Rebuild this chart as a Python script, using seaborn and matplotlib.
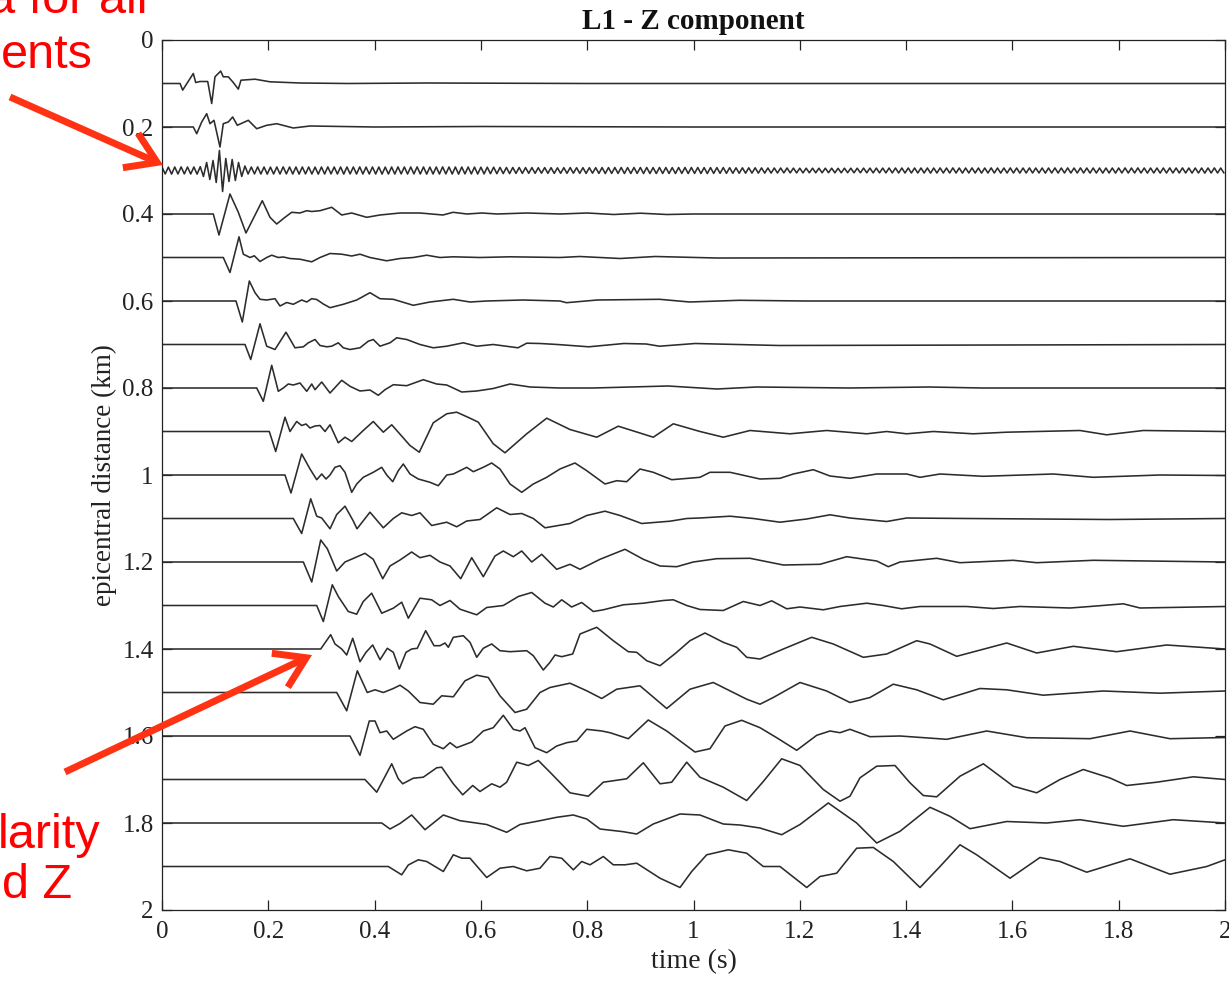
import numpy as np
import pandas as pd
import matplotlib
matplotlib.use("Agg")
import matplotlib.pyplot as plt
from matplotlib.ticker import FuncFormatter
import seaborn as sns

# ---------------- text ----------------
TITLE = "L1 - Z component"
XLABEL = "time (s)"
YLABEL = "epicentral distance (km)"
X_TICKS = [0, 0.2, 0.4, 0.6, 0.8, 1.0, 1.2, 1.4, 1.6, 1.8, 2.0]
Y_TICKS = [0, 0.2, 0.4, 0.6, 0.8, 1.0, 1.2, 1.4, 1.6, 1.8, 2.0]
NOTE_TOP = ["a for all", "ents"]
NOTE_BOTTOM = ["larity", "d Z"]

# ---------------- data ----------------
# trace offsets (epicentral distance, km)
DISTANCES = [0.1, 0.2, 0.3, 0.4, 0.5, 0.6, 0.7, 0.8, 0.9, 1.0,
             1.1, 1.2, 1.3, 1.4, 1.5, 1.6, 1.7, 1.8, 1.9]
AMP_GAIN = 0.0023  # km of plot offset per amplitude unit (up = positive)

T_01 = [0, 0.0339, 0.0389, 0.0589, 0.0634, 0.0715, 0.0860, 0.0935, 0.0997, 0.1104, 0.1153,
        0.1247, 0.1330, 0.1436, 0.1486, 0.1750, 0.2032, 0.2600, 0.3500, 0.5000, 0.8000, 2.0]
A_01 = [0, 0, -6.6, 10, 1, 2, 2, -20, 6.7, 12.4, 6.7, 6.7, 1.7, -5.6, 3.3, 4.3, 1.7, 0.5, 0, 0.5, 0, 0]

T_02 = [0, 0.0589, 0.0653, 0.0747, 0.0841, 0.0903, 0.0978, 0.1091, 0.1153, 0.1247, 0.1330,
        0.1417, 0.1624, 0.1782, 0.1970, 0.2158, 0.2470, 0.2785, 0.40, 0.60, 1.00, 2.0]
A_02 = [0, 0, -6.7, 5, 13.3, 3.3, 6.7, -20, 3.3, 5, 10, 1.7, 6.7, -1.7, 1.7, 3.3, -1, 1, 0, 0.5, 0, 0]

# 0.3 km trace: ringing record, extrema sampled every RING_DT seconds
RING_DT = 0.006
A_03 = [
    3.5, -3.5, 3.4, -3.6, 3.5, -3.5, 3.6, -3.4, 3.5, -3.5, 3.5, -3.6, 3.8,
    -6, 8, -9, 10, -12, 20, -21, 12, -11, 11, -10, 8, -6, 4.5,
    -3.5, 3.5, -3.4, 3.6, -3.5, 3.5, -3.6, 3.4, -3.5, 3.5,
    -3.5, 3.6, -3.4, 3.5, -3.5, 3.5, -3.6, 3.5, -3.4, 3.5,
    -3.5, 3.4, -3.6, 3.5, -3.5, 3.6, -3.4, 3.5, -3.5, 3.5,
    -3.6, 3.5, -3.4, 3.5, -3.5, 3.6, -3.5, 3.4, -3.5, 3.5,
    -3.5, 3.5, -3.6, 3.4, -3.5, 3.5, -3.5, 3.6, -3.4, 3.5,
    -3.5, 3.5, -3.4, 3.6, -3.5, 3.5, -3.6, 3.4, -3.5, 3.5,
    -3.5, 3.6, -3.4, 3.5, -3.5, 3.5, -3.6, 3.5, -3.4, 3.5,
    -3.4, 3.4, -3.5, 3.3, -3.4, 3.3, -3.2, 3.3, -3.2, 3.1,
    -3.1, 3.0, -3.1, 3.0, -2.9, 3.0, -2.9, 2.9, -2.8, 2.9,
    -2.8, 2.8, -2.7, 2.9, -2.8, 2.8, -2.9, 2.7, -2.8, 2.8,
    -2.8, 2.9, -2.7, 2.8, -2.8, 2.8, -2.9, 2.8, -2.7, 2.8,
    -2.9, 2.9, -3.0, 2.9, -2.9, 3.0, -2.9, 3.0, -3.0, 2.9,
    -3.0, 3.0, -2.9, 3.0, -3.0, 3.0, -3.0, 2.9, -3.0, 3.0,
    -3.0, 3.0, -3.0, 2.9, -3.0, 3.0, -2.9, 3.0, -3.0, 3.0,
    -2.9, 3.0, -3.0, 2.9, -3.0, 2.9, -2.9, 2.9, -2.8, 2.9,
    -2.8, 2.8, -2.8, 2.7, -2.8, 2.7, -2.7, 2.7, -2.6, 2.7,
    -2.6, 2.6, -2.6, 2.5, -2.6, 2.5, -2.5, 2.5, -2.4, 2.5,
    -2.4, 2.4, -2.4, 2.3, -2.4, 2.3, -2.3, 2.3, -2.3, 2.3,
    -2.3, 2.3, -2.2, 2.3, -2.3, 2.2, -2.3, 2.3, -2.2, 2.3,
    -2.3, 2.3, -2.3, 2.4, -2.3, 2.4, -2.4, 2.4, -2.4, 2.4,
    -2.4, 2.5, -2.4, 2.5, -2.5, 2.5, -2.5, 2.5, -2.5, 2.5,
    -2.5, 2.5, -2.5, 2.5, -2.6, 2.5, -2.5, 2.6, -2.5, 2.5,
    -2.5, 2.6, -2.5, 2.5, -2.6, 2.5, -2.5, 2.6, -2.5, 2.5,
    -2.6, 2.5, -2.5, 2.6, -2.5, 2.5, -2.6,
    2.5, -2.5, 2.6, -2.5, 2.5, -2.6, 2.5, -2.5, 2.6, -2.5,
    2.5, -2.5, 2.5, -2.6, 2.5, -2.5, 2.6, -2.5, 2.5, -2.5,
    2.6, -2.5, 2.5, -2.5, 2.6, -2.5, 2.5, -2.6, 2.5, -2.5,
    2.5, -2.6, 2.5, -2.5, 2.5, -2.6, 2.5, -2.5, 2.6, -2.5,
    2.5, -2.5, 2.6, -2.5, 2.5, -2.6, 2.5, -2.5, 2.5, -2.6,
    2.5, -2.5, 2.6, -2.5, 2.5, -2.5, 2.6, -2.5, 2.5, -2.6,
    2.5, -2.5, 2.5, -2.6, 2.5, -2.5, 2.6, -2.5, 2.5, -2.5,
]

T_04 = [0, 0.0965, 0.1072, 0.1279, 0.1436, 0.1580, 0.1887, 0.2032, 0.2158, 0.2314, 0.2440, 0.2596,
        0.2723, 0.2817, 0.2973, 0.3193, 0.3381, 0.3569, 0.3851, 0.4102, 0.4478, 0.4854, 0.5287,
        0.5475, 0.5738, 0.6021, 0.6303, 0.6867, 0.7488, 0.80, 0.85, 0.90, 0.95, 1.00, 1.05, 2.0]
A_04 = [0, 0, -21, 20, 1.7, -19, 13.3, -3.3, -10, -3.3, 1.7, 1, 3.3, 2.5, 3.3, 6.7, -1, 1, -3.3, -1,
        1, 1, -1, 1.7, 0, 1, 0, 1, 0, 1, -0.5, 0.8, -0.5, 0, 0, 0]

T_05 = [0, 0.1153, 0.1279, 0.1449, 0.1530, 0.1656, 0.1737, 0.1844, 0.1970, 0.2064, 0.2188, 0.2282,
        0.2408, 0.2596, 0.2817, 0.2973, 0.3161, 0.3381, 0.3569, 0.3725, 0.3913, 0.4228, 0.4478,
        0.4728, 0.4980, 0.5230, 0.5481, 0.5983, 0.6548, 0.7488, 0.786, 0.862, 0.928, 1.044, 2.0]
A_05 = [0, 0, -15, 20.7, 3.3, 0, 1.7, -4, 0, 2.3, 0, 0.5, -1, -1.7, -4.3, 0, 4, 3.3, 1.5, 3.3,
        0, -3.3, -1, 0, 2.3, 0, 0.7, 0, 0.7, 0, 1, -1, 1, -0.5, 0]

T_06 = [0, 0.1392, 0.1511, 0.1643, 0.1750, 0.1844, 0.1970, 0.2126, 0.2220, 0.2346, 0.2470, 0.2628,
        0.2723, 0.2817, 0.2911, 0.3035, 0.3161, 0.3411, 0.3663, 0.3913, 0.4102, 0.4352, 0.4728,
        0.5042, 0.5481, 0.5795, 0.6109, 0.6792, 0.7488, 0.761, 0.819, 0.936, 0.993, 1.086, 1.21, 2.0]
A_06 = [0, 0, -21, 20, 8.3, 1.7, 1, 2.3, -5, -1.5, -3.3, 1, -1, 2.3, 1.5, -3, -6.7, -3.3, 1, 8.3,
        2.3, 1.7, -4.3, -1, 1.7, -1, 0, 1, 0, -1.7, 1, 1.7, -1, 0.7, 0, 0]

T_07 = [0, 0.1562, 0.1669, 0.1844, 0.1970, 0.2126, 0.2333, 0.2502, 0.2659, 0.2753, 0.2879, 0.2973,
        0.3099, 0.3193, 0.3317, 0.3411, 0.3537, 0.3725, 0.3881, 0.3975, 0.4102, 0.4290, 0.4416,
        0.4604, 0.4854, 0.5104, 0.5357, 0.5669, 0.5921, 0.6233, 0.6698, 0.6862, 0.7112, 0.744,
        0.803, 0.869, 0.911, 0.936, 1.003, 1.161, 2.0]
A_07 = [0, 0, -15, 20.7, -1.7, -5, 12.3, -3.3, -2.3, 1.7, 5, -1, -2.3, -1.7, 1.7, -3.3, -5, -3.3,
        3.3, 5, -1.7, 1.7, 6.7, 5, 0, -3.3, -1.7, 1.7, -1.7, 0, -3.3, 1.3, 1, 0, -2.3, 1, 0.5,
        -1.7, 1, -1, 0]

T_08 = [0, 0.1782, 0.1906, 0.2064, 0.2188, 0.2282, 0.2376, 0.2470, 0.2596, 0.2723, 0.2817, 0.2879,
        0.3005, 0.3161, 0.3381, 0.3537, 0.3725, 0.3913, 0.4070, 0.4196, 0.4352, 0.4604, 0.4916,
        0.5168, 0.5357, 0.5639, 0.5921, 0.6233, 0.6548, 0.6924, 0.7488, 0.811, 0.952, 1.044,
        1.119, 1.294, 1.443, 1.543, 2.0]
A_08 = [0, 0, -13.3, 22.7, -3.3, 0, 4, 3, 5, -3.3, 4, -1.7, 6, -5, 7.7, 1.7, -3, -2, -7.3, -1.7,
        3.3, 2.3, 8.3, 4, 3, -4, -3, -0.5, 4, 1, 0, 0, 2, -1, 1, 0, 1, 0, 0]

T_09 = [0, 0.2019, 0.2139, 0.2314, 0.2408, 0.2534, 0.2628, 0.2709, 0.2785, 0.2879, 0.2973, 0.3067,
        0.3161, 0.3317, 0.3443, 0.3569, 0.3787, 0.3975, 0.4164, 0.4322, 0.4666, 0.4841, 0.5104,
        0.5357, 0.5545, 0.5795, 0.5951, 0.6233, 0.6453, 0.6862, 0.7238, 0.7676, 0.8179, 0.8585,
        0.9243, 0.9620, 1.0122, 1.0560, 1.1063, 1.1816, 1.2506, 1.3259, 1.3635, 1.4011, 1.4512,
        1.5264, 1.5893, 1.7272, 1.7774, 1.8463, 2.0]
A_09 = [0, 0, -20, 14.3, 0, 10, 6, 7.5, 3.5, 5.5, 6, 0, 6.7, -11.3, -5.7, -10, 1, 10, -0.7, 6.7,
        -14, -20.7, 8.7, 17.7, 19.3, 13.3, 9.3, -12.3, -21.3, -2.3, 13.3, 2, -5.7, 5.3, -5.7, 7.7,
        0, -5.7, 1, -2.3, 1, -2.3, 0, -2.3, 0, -2.3, -0.7, 1, -3.3, 1, 0]

T_10 = [0, 0.2314, 0.2427, 0.2628, 0.2785, 0.2911, 0.3005, 0.3086, 0.3161, 0.3255, 0.3349, 0.3443,
        0.3569, 0.3663, 0.3787, 0.3975, 0.4134, 0.4228, 0.4341, 0.4446, 0.4540, 0.4666, 0.4822,
        0.5042, 0.5199, 0.5357, 0.5481, 0.5607, 0.5733, 0.5857, 0.6045, 0.6203, 0.6359, 0.6548,
        0.6768, 0.6986, 0.7238, 0.7488, 0.7770, 0.7991, 0.8335, 0.8555, 0.8743, 0.8993, 0.9243,
        0.9590, 1.0122, 1.0310, 1.0687, 1.1251, 1.1627, 1.1878, 1.2254, 1.2568, 1.2944, 1.3447,
        1.4011, 1.4262, 1.4638, 1.5453, 1.6770, 1.7522, 1.8777, 2.0]
A_10 = [0, 0, -18, 21, 6, -4.7, 1, -4, 0, 7.7, 9.3, 2.7, -17.3, -9, -2.3, 2.7, 7.7, 0, -6.7, 4.3,
        11, 1, -4, -7.3, -10.7, 0, 1, 4.3, 7.7, 3.3, 7.7, 12, 6, -9, -17.3, -9, -2.3, 6, 12, 4.3,
        -9, -5.7, -6.7, 6, 2.7, -4.7, -2.3, 2.7, 2.7, -4, -3.3, 1, 5.3, -1, -3.3, 1, 1, -2.3, 1,
        -1.3, 1, -2.3, 0, -0.5]

T_11 = [0, 0.2470, 0.2628, 0.2798, 0.2911, 0.3005, 0.3161, 0.3287, 0.3443, 0.3594, 0.3669, 0.3913,
        0.4164, 0.4352, 0.4510, 0.4698, 0.4854, 0.5074, 0.5357, 0.5545, 0.5733, 0.5983, 0.6297,
        0.6548, 0.6768, 0.6986, 0.7206, 0.7676, 0.7991, 0.8335, 0.8617, 0.9025, 0.9558, 0.9872,
        1.0122, 1.0687, 1.1125, 1.1627, 1.2130, 1.2568, 1.2944, 1.3635, 1.4011, 1.5140, 1.7836, 2.0]
A_11 = [0, 0, -15, 19.7, 2.3, 0.5, -10.3, 4, 12.3, -2, -10.3, 6.3, -9.3, 0, 5.7, 3, 5.7, -7, -3.7,
        -8.3, -2.5, -1, 10.7, 4, 5, 0, -9.3, -5, 3, 7.3, 3, -5, -2.7, 0, 0.5, 2.3, 0, -3.7, -0.5,
        3.7, 0.5, -3, 0.5, 0, -1, 0]

T_12 = [0, 0.2659, 0.2817, 0.2986, 0.3110, 0.3287, 0.3443, 0.3631, 0.3819, 0.3975, 0.4153, 0.4290,
        0.4478, 0.4698, 0.4854, 0.5042, 0.5230, 0.5419, 0.5620, 0.5827, 0.6045, 0.6265, 0.6421,
        0.6610, 0.6768, 0.6956, 0.7144, 0.7426, 0.7676, 0.7865, 0.8241, 0.8711, 0.9056, 0.9370,
        0.9684, 0.9996, 1.0436, 1.1063, 1.1690, 1.2380, 1.2882, 1.3447, 1.3665, 1.3885, 1.4576,
        1.5014, 1.6017, 1.6457, 1.7522, 2.0]
A_12 = [0, 0, -20, 22, 13.3, -9, 0, 4.3, 8.7, 2.7, -16.7, -4, 2, 10, 4.3, 6.7, 0, -4, -16.7, 4.3,
        -14.7, 6, 11, 5.3, 11, 0, 7.7, -7.3, -2.3, -7.3, 2.7, 12.7, 2.7, -4, -4.7, 0, 3.3, 3.7,
        -3, -2.3, 5.3, 1, -4.7, 0, 3.7, -0.7, 1.7, -0.7, 1.7, 0]

T_13 = [0, 0.2911, 0.3035, 0.3204, 0.3317, 0.3505, 0.3663, 0.3787, 0.3945, 0.4134, 0.4352, 0.4510,
        0.4634, 0.4854, 0.5074, 0.5230, 0.5419, 0.5607, 0.5921, 0.6109, 0.6421, 0.6704, 0.6956,
        0.7206, 0.7362, 0.7520, 0.7708, 0.7896, 0.8115, 0.8303, 0.8679, 0.9056, 0.9432, 0.9620,
        0.9872, 1.0122, 1.0560, 1.0937, 1.1251, 1.1471, 1.1754, 1.2004, 1.2442, 1.2756, 1.3259,
        1.3571, 1.3917, 1.4262, 1.5140, 1.5641, 1.6143, 1.7084, 1.7460, 1.8087, 1.8401, 2.0]
A_13 = [0, 0, -16, 20.7, 9, -6, -8.7, 4, 12.3, -7.7, -2.7, 3.3, -12.7, 7.3, 5.7, 0, 5, -3.7, -9.3,
        -2, 0, 9, 13, 2.3, -1.5, 5.7, -1.5, 3, -6, -4.3, 0.7, 2.3, 5, 5.7, 0, -4, -5, 4, 0, 4.7,
        -3.3, -1.5, -4.3, -1, 2.3, 0, -3.3, -1, -1, -3, -1, -2.5, -1, 1.7, -2.5, -1]

T_14 = [0, 0.2986, 0.3174, 0.3255, 0.3381, 0.3475, 0.3588, 0.3725, 0.3838, 0.3964, 0.4102, 0.4239,
        0.4352, 0.4465, 0.4591, 0.4698, 0.4803, 0.4961, 0.5118, 0.5230, 0.5325, 0.5387, 0.5481,
        0.5669, 0.5795, 0.5921, 0.6045, 0.6203, 0.6359, 0.6548, 0.6862, 0.6986, 0.7174, 0.7300,
        0.7394, 0.7520, 0.7727, 0.7865, 0.8179, 0.8491, 0.8773, 0.8931, 0.9119, 0.9370, 0.9684,
        0.9934, 1.0216, 1.0560, 1.0813, 1.1001, 1.1251, 1.1690, 1.2224, 1.2630, 1.3195, 1.3635,
        1.4199, 1.4450, 1.4952, 1.5893, 1.6457, 1.7146, 1.7962, 1.8903, 2.0]
A_14 = [0, 0, 14.3, 5, 0, -6, 10.7, -12.7, -3.3, 4, -10.7, 0.7, -3.3, -20, -3.3, 0, 0.7, 18.3, 3.3,
        3.3, 6, 1.7, 11.7, 13.3, 6.7, -8.3, 0.7, 5, -1.7, -2.7, -1.7, -6.7, -21, -13.3, -6, -7.7,
        -5, 15, 21.7, 8.3, -2.7, -3.3, -11.7, -16.7, -3.3, 8.3, 16, 6.7, 1.7, -8.3, -10, 0, 11.7,
        5, -8.3, -5, 8.3, 5, -7.3, 6, -4, 2.7, -2.7, 4, 0]

T_15 = [0, 0.3287, 0.3475, 0.3675, 0.3862, 0.4008, 0.4164, 0.4352, 0.4478, 0.4634, 0.4854, 0.5104,
        0.5262, 0.5481, 0.5701, 0.5921, 0.6139, 0.6359, 0.6642, 0.6862, 0.7112, 0.7300, 0.7676,
        0.7991, 0.8273, 0.8555, 0.8993, 0.9496, 0.9934, 1.0372, 1.1001, 1.1251, 1.1501, 1.2004,
        1.2506, 1.2944, 1.3321, 1.3759, 1.4199, 1.4700, 1.5390, 1.5893, 1.6581, 1.7711, 1.8777, 2.0]
A_15 = [0, 0, -18.3, 21.7, 0, 2.7, 0, 4, 7.3, 1.5, -10, -11.7, -3.3, -4.3, 11.7, 17.3, 15, -3.3,
        -20, -16.7, 0, 5, 9.3, 1.7, -6, 3.3, 6.7, -16, 3.3, 10, -6.7, -11.7, -5, 10, 1.5, -10, -5,
        8.3, 2.7, -7.3, 4, 2.7, -2.7, 1.5, -0.7, 1.5]

T_16 = [0, 0.3537, 0.3725, 0.3900, 0.4008, 0.4102, 0.4228, 0.4352, 0.4604, 0.4760, 0.4916, 0.5104,
        0.5293, 0.5419, 0.5545, 0.5827, 0.6045, 0.6233, 0.6421, 0.6610, 0.6736, 0.6830, 0.7018,
        0.7238, 0.7426, 0.7614, 0.7802, 0.7991, 0.8273, 0.8429, 0.8773, 0.9149, 0.9496, 1.0028,
        1.0310, 1.0592, 1.0907, 1.1251, 1.1565, 1.1942, 1.2318, 1.2568, 1.2756, 1.2944, 1.3321,
        1.3885, 1.4764, 1.5516, 1.6269, 1.7460, 1.8213, 1.8965, 2.0]
A_16 = [0, 0, -19.3, 15, 15, 3.3, 5, -3.3, 5, 9.3, 6.7, -8.3, -12.7, -6.7, -11.7, -6, 5, 8.3, 20.7,
        6.7, 5, 8.3, -11.7, -16.7, -10, -6.7, -5, 6.7, 5, 3.3, -2.7, 16, 5, -16, -12.7, 10, 15.7,
        8.3, -1.7, -14.3, 0.7, 5, 3.3, 6.7, -0.7, 0, -3.3, 5, -1.7, -2.7, 5, -2.7, -1.5]

T_17 = [0, 0.3819, 0.4040, 0.4322, 0.4446, 0.4529, 0.4728, 0.4916, 0.5168, 0.5262, 0.5481, 0.5658,
        0.5846, 0.5983, 0.6203, 0.6359, 0.6485, 0.6674, 0.6892, 0.7080, 0.7300, 0.7676, 0.8021,
        0.8303, 0.8743, 0.9056, 0.9370, 0.9590, 0.9872, 1.0122, 1.0560, 1.1001, 1.1313, 1.1659,
        1.2004, 1.2442, 1.2756, 1.2944, 1.3133, 1.3447, 1.3791, 1.4073, 1.4324, 1.4576, 1.5014,
        1.5453, 1.6017, 1.6457, 1.6896, 1.7334, 1.7836, 1.8150, 1.8715, 1.9404, 2.0]
A_17 = [0, 0, -12.7, 15.7, 0.7, -4.3, 1.3, 2.3, 11.7, 12.3, -4.3, -15.3, -6, -12, -4.3, -7.7, -2.7,
        17.3, 14, 19, 7.3, -13.3, -16.7, -2.7, 0.7, 16.7, -4.3, -2.7, 17.3, 2.3, -7.7, -21, -2,
        20.7, 14, -10, -21.7, -16.7, 1.7, 13.3, 14, -3.3, -16, -17.3, 3.3, 15.7, -6.7, -13.3, 0,
        10, 1.5, -6, -2.7, 2.7, 0]

T_18 = [0, 0.4134, 0.4290, 0.4478, 0.4698, 0.4948, 0.5293, 0.5607, 0.6109, 0.6485, 0.6736, 0.7112,
        0.7426, 0.7739, 0.7991, 0.8241, 0.8679, 0.8931, 0.9243, 0.9746, 1.0122, 1.0560, 1.0875,
        1.1251, 1.1659, 1.2004, 1.2536, 1.3070, 1.3447, 1.3885, 1.4450, 1.4826, 1.5202, 1.5893,
        1.6645, 1.7272, 1.8087, 1.9027, 2.0]
A_18 = [0, 0, -6, -0.5, 8, -6.7, 8, 2.3, -1.5, -9.3, -1.5, 2.3, 5.7, 8, 4, -6, -8.7, -11, -1, 9, 8,
        -1, -2, -5, -11.7, -1.5, 20, 0, -20, -8.3, 15.7, 6.7, -5.7, 1.5, 0, 3.3, -3.3, 3.3, 0]

T_19 = [0, 0.4258, 0.4510, 0.4634, 0.4822, 0.4980, 0.5293, 0.5481, 0.5639, 0.5795, 0.6109, 0.6359,
        0.6610, 0.6862, 0.7112, 0.7300, 0.7520, 0.7739, 0.7896, 0.8053, 0.8303, 0.8491, 0.8711,
        0.8931, 0.9370, 0.9746, 0.9966, 1.0248, 1.0655, 1.1001, 1.1313, 1.1627, 1.2130, 1.2380,
        1.2694, 1.3070, 1.3383, 1.3759, 1.4262, 1.4638, 1.5014, 1.5328, 1.5955, 1.6519, 1.6896,
        1.7398, 1.8213, 1.8965, 1.9656, 2.0]
A_19 = [0, 0, -8.3, 1.5, 6.7, 5, -5, 11.7, 8.3, 8.3, -11, -1.7, 0, -4.3, -1.7, 10, 8.3, -3.3, 5,
        1.7, 10, 1.7, 1.7, 3.3, -11.7, -21, -5, 11.7, 16.7, 13.3, 0, 0, -21, -10, -6.7, 18.3, 19,
        5, -21, 0, 21.7, 11.7, -11.7, 9, 5, -5.7, 7.7, -7.7, 0, 6.7]

T_03 = list(np.arange(len(A_03)) * RING_DT)

TRACES = [(T_01, A_01), (T_02, A_02), (T_03, A_03), (T_04, A_04), (T_05, A_05), (T_06, A_06),
          (T_07, A_07), (T_08, A_08), (T_09, A_09), (T_10, A_10), (T_11, A_11), (T_12, A_12),
          (T_13, A_13), (T_14, A_14), (T_15, A_15), (T_16, A_16), (T_17, A_17), (T_18, A_18),
          (T_19, A_19)]

frames = []
for dist, (t, a) in zip(DISTANCES, TRACES):
    assert len(t) == len(a), (dist, len(t), len(a))
    frames.append(pd.DataFrame({
        "time": np.asarray(t, float),
        "offset": dist - np.asarray(a, float) * AMP_GAIN,
        "trace": f"{dist:.1f}",
    }))
df = pd.concat(frames, ignore_index=True)

# ---------------- style ----------------
sns.set_theme(style="ticks")
plt.rcParams["font.family"] = ["Liberation Serif", "DejaVu Serif"]
plt.rcParams["axes.edgecolor"] = "#222222"
plt.rcParams["axes.linewidth"] = 0.9

W, H = 1229, 982
fig = plt.figure(figsize=(W / 100, H / 100), dpi=100)
fig.patch.set_facecolor("white")
ax = fig.add_axes([162 / W, 1 - 910 / H, (1225 - 162) / W, (910 - 40) / H])

sns.lineplot(data=df, x="time", y="offset", units="trace", estimator=None, sort=False,
             color="#2c2c2c", linewidth=1.15, legend=False, ax=ax)
for ln in ax.get_lines():
    ln.set_solid_joinstyle("round")
    ln.set_solid_capstyle("round")

ax.set_xlim(0, 2)
ax.set_ylim(2, 0)
ax.set_xticks(X_TICKS)
ax.set_yticks(Y_TICKS)
fmt = FuncFormatter(lambda v, p: f"{v:g}")
ax.xaxis.set_major_formatter(fmt)
ax.yaxis.set_major_formatter(fmt)
ax.tick_params(axis="both", which="major", direction="in", top=True, right=True,
               length=7, width=0.9, colors="#222222", labelsize=18, labelcolor="#222222")
ax.tick_params(axis="x", pad=8)
ax.tick_params(axis="y", pad=6)
for s in ax.spines.values():
    s.set_visible(True)
    s.set_color("#222222")

ax.set_title(TITLE, fontsize=21, fontweight="bold", pad=8, color="#111111")
ax.set_xlabel(XLABEL, fontsize=20, labelpad=4, color="#222222")
ax.set_ylabel(YLABEL, fontsize=19.5, labelpad=4, color="#222222")

# ---------------- red annotations ----------------
red = "#FF0000"
sans = ["Liberation Sans", "DejaVu Sans"]
fig.text(148 / W, 1 - 13 / H, NOTE_TOP[0], ha="right", va="baseline", color=red,
         fontsize=35, family=sans)
fig.text(93 / W, 1 - 68 / H, NOTE_TOP[1], ha="right", va="baseline", color=red,
         fontsize=35, family=sans)
fig.text(100 / W, 1 - 848 / H, NOTE_BOTTOM[0], ha="right", va="baseline", color=red,
         fontsize=35, family=sans)
fig.text(72 / W, 1 - 898 / H, NOTE_BOTTOM[1], ha="right", va="baseline", color=red,
         fontsize=35, family=sans)

arrow_color = "#FF3314"
for tail, head in [((10, H - 97), (163, H - 165)), ((65, H - 772), (312, H - 655))]:
    ax.annotate("", xy=head, xytext=tail, xycoords="figure pixels", textcoords="figure pixels",
                annotation_clip=False,
                arrowprops=dict(arrowstyle="->,head_length=0.7,head_width=0.45", lw=5,
                                color=arrow_color, mutation_scale=30, shrinkA=0, shrinkB=0,
                                capstyle="butt", joinstyle="miter"))

fig.savefig("out.png", dpi=100, facecolor="white")
